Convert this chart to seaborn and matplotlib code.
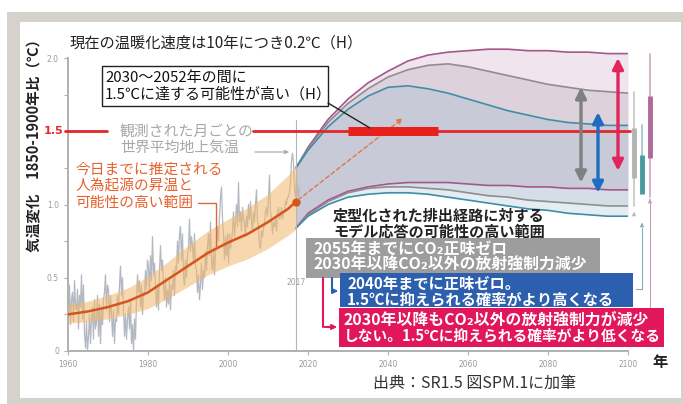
import numpy as np
import pandas as pd
import matplotlib
matplotlib.use('Agg')
import matplotlib.pyplot as plt
import seaborn as sns
from matplotlib.patches import Rectangle, FancyArrowPatch
from matplotlib.lines import Line2D

# ---------------- data ----------------
obs_vals = [
    0.22, 0.45, 0.18, 0.35,  # 1960
    0.40, 0.20, 0.48, 0.30,
    0.28, 0.42, 0.15, 0.38,
    0.30, 0.52, 0.22, 0.45,
    0.12, 0.02, 0.20, 0.00,
    0.10, 0.25, 0.05, 0.22,
    0.30, 0.08, 0.35, 0.15,
    0.20, 0.38, 0.10, 0.32,
    0.05, 0.30, 0.18, 0.35,
    0.40, 0.52, 0.28, 0.45,
    0.42, 0.20, 0.38, 0.25,  # 1970
    0.10, 0.28, 0.05, 0.22,
    0.20, 0.38, 0.25, 0.45,
    0.58, 0.38, 0.50, 0.28,
    0.10, 0.25, 0.08, 0.22,
    0.30, 0.15, 0.35, 0.05,
    0.18, 0.00, 0.22, 0.08,
    0.35, 0.52, 0.40, 0.48,
    0.30, 0.45, 0.25, 0.40,
    0.38, 0.55, 0.42, 0.62,
    0.58, 0.40, 0.65, 0.48,  # 1980
    0.78, 0.52, 0.60, 0.45,
    0.30, 0.45, 0.28, 0.55,
    0.72, 0.55, 0.62, 0.45,
    0.35, 0.50, 0.30, 0.42,
    0.32, 0.48, 0.28, 0.45,
    0.42, 0.55, 0.38, 0.58,
    0.55, 0.75, 0.60, 0.80,
    0.85, 0.62, 0.80, 0.50,
    0.45, 0.62, 0.50, 0.65,
    0.70, 0.90, 0.68, 0.78,  # 1990
    0.72, 0.60, 0.80, 0.58,
    0.55, 0.40, 0.52, 0.35,
    0.45, 0.60, 0.42, 0.55,
    0.50, 0.68, 0.55, 0.72,
    0.80, 0.65, 0.88, 0.60,
    0.55, 0.70, 0.52, 0.68,
    0.70, 0.85, 0.75, 0.92,
    1.05, 1.12, 0.90, 0.80,
    0.62, 0.78, 0.65, 0.80,
    0.60, 0.80, 0.70, 0.75,  # 2000
    0.82, 0.95, 0.78, 0.88,
    1.00, 0.85, 1.15, 0.88,
    0.95, 0.82, 0.98, 0.90,
    0.88, 0.78, 0.92, 0.85,
    1.00, 0.90, 1.02, 0.88,
    0.82, 0.95, 0.88, 1.00,
    1.10, 0.88, 0.85, 0.72,
    0.70, 0.82, 0.78, 0.85,
    0.85, 0.95, 0.98, 0.92,
    1.05, 1.20, 0.95, 0.90,  # 2010
    0.80, 0.88, 0.85, 0.90,
    0.82, 0.95, 0.98, 0.90,
    0.92, 0.98, 0.90, 0.95,
    0.95, 1.02, 1.00, 1.05,
    1.05, 1.08, 1.15, 1.30,
    1.35, 1.28, 1.10, 1.05,
    1.18, 1.10, 1.05, 1.12,
]
obs_start = 1960

anth_years = [1960, 1965, 1970, 1975, 1980, 1985, 1990, 1995, 2000, 2005, 2010, 2015, 2017]
anth_mid = [0.25, 0.27, 0.30, 0.34, 0.40, 0.49, 0.58, 0.67, 0.74, 0.80, 0.88, 0.97, 1.02]
anth_lo = [0.19, 0.20, 0.22, 0.25, 0.29, 0.36, 0.44, 0.52, 0.58, 0.63, 0.70, 0.79, 0.83]
anth_hi = [0.32, 0.34, 0.38, 0.43, 0.51, 0.61, 0.72, 0.82, 0.90, 0.98, 1.07, 1.20, 1.27]

proj_years = [2017, 2020, 2025, 2030, 2035, 2040, 2045, 2050, 2055, 2060,
              2065, 2070, 2075, 2080, 2085, 2090, 2095, 2100]
pink_hi = [1.25, 1.39, 1.58, 1.72, 1.83, 1.91, 1.98, 2.02, 2.04, 2.05, 2.06, 2.06, 2.05, 2.05, 2.04, 2.04, 2.03, 2.03]
gray_hi = [1.25, 1.38, 1.56, 1.69, 1.79, 1.87, 1.92, 1.95, 1.96, 1.94, 1.91, 1.88, 1.85, 1.82, 1.80, 1.78, 1.77, 1.76]
blue_hi = [1.25, 1.37, 1.53, 1.65, 1.74, 1.80, 1.81, 1.79, 1.76, 1.72, 1.68, 1.64, 1.61, 1.58, 1.56, 1.55, 1.54, 1.54]
pink_lo = [0.84, 0.94, 1.03, 1.09, 1.12, 1.14, 1.15, 1.15, 1.15, 1.14, 1.13, 1.13, 1.12, 1.12, 1.11, 1.11, 1.10, 1.10]
gray_lo = [0.84, 0.93, 1.02, 1.08, 1.11, 1.12, 1.12, 1.11, 1.10, 1.08, 1.06, 1.05, 1.03, 1.02, 1.01, 1.00, 0.99, 0.99]
blue_lo = [0.84, 0.92, 1.00, 1.05, 1.07, 1.08, 1.08, 1.07, 1.05, 1.03, 1.01, 0.99, 0.97, 0.96, 0.94, 0.93, 0.92, 0.92]

# scenario ranges in 2100 (double arrows): x-year, top, bottom
gray_arrow = (2088.25, 1.80, 1.15)
blue_arrow = (2092.5, 1.63, 1.08)
pink_arrow = (2097.5, 2.00, 1.23)

# right-hand bars: x, thin range, thick range
gray_bar = (2101.5, (0.99, 1.77), (1.18, 1.52))
blue_bar = (2103.5, (1.07, 1.54), (1.07, 1.34))
pink_bar = (2105.5, (1.05, 2.03), (1.32, 1.74))

reach_15 = (2030, 2052.5)
x_ticks = [1960, 1980, 2000, 2020, 2040, 2060, 2080, 2100]
y_ticks = [0, 0.25, 0.5, 0.75, 1.0, 1.25, 1.5, 1.75, 2.0]
y_labels = ['0', '', '0.5', '', '1.0', '', '', '', '2.0']

# ---------------- style ----------------
sns.set_theme(style='white')
plt.rcParams['font.family'] = ['Noto Sans CJK JP', 'DejaVu Sans']

W, H = 683, 404
fig = plt.figure(figsize=(W / 100, H / 100), dpi=100)


def P(x, y):
    return (x / W, 1 - y / H)


def frect(x0, y0, x1, y1, **kw):
    r = Rectangle((x0 / W, 1 - y1 / H), (x1 - x0) / W, (y1 - y0) / H,
                  transform=fig.transFigure, **kw)
    fig.add_artist(r)


def fline(xs, ys, **kw):
    fig.add_artist(Line2D([x / W for x in xs], [1 - y / H for y in ys],
                          transform=fig.transFigure, **kw))


def farrow(x0, y0, x1, y1, **kw):
    fig.add_artist(FancyArrowPatch(P(x0, y0), P(x1, y1),
                                   transform=fig.transFigure, **kw))


def ftext(x, y, s, **kw):
    kw.setdefault('va', 'center')
    fig.text(x / W, 1 - y / H, s, **kw)


# frame
frect(7, 12, 683, 404, fc='#d5d2cb', ec='none', zorder=-10)
frect(20, 22, 681, 398, fc='white', ec='none', zorder=-9)

ax = fig.add_axes([68 / W, 1 - 351 / H, 560 / W, 307.65 / H])
ax.patch.set_alpha(0)
ax.set_xlim(1960, 2100)
ax.set_ylim(0, 2.1)

# projections fills
py = np.array(proj_years)
ax.fill_between(py, gray_hi, pink_hi, color='#f0e4ee', lw=0, zorder=1)
ax.fill_between(py, blue_hi, gray_hi, color='#ddd1dc', lw=0, zorder=1)
ax.fill_between(py, pink_lo, blue_hi, color='#c9cad8', lw=0, zorder=1)
ax.fill_between(py, gray_lo, pink_lo, color='#d5dee6', lw=0, zorder=1)
ax.fill_between(py, blue_lo, gray_lo, color='#e4edf1', lw=0, zorder=1)

proj = pd.DataFrame({'year': proj_years})
for col, vals, c in [('ph', pink_hi, '#a4578a'), ('pl', pink_lo, '#a4578a'),
                     ('gh', gray_hi, '#8e8e8e'), ('gl', gray_lo, '#8e8e8e'),
                     ('bh', blue_hi, '#3f8ea8'), ('bl', blue_lo, '#3f8ea8')]:
    proj[col] = vals
    sns.lineplot(data=proj, x='year', y=col, ax=ax, color=c, lw=1.2,
                 estimator=None, zorder=2)

# observations
obs = pd.DataFrame({'year': obs_start + 0.125 + 0.25 * np.arange(len(obs_vals)),
                    'temp': obs_vals})
sns.lineplot(data=obs, x='year', y='temp', ax=ax, color='#b3b8c2', lw=0.9,
             estimator=None, zorder=2)

# anthropogenic band and line
ax.fill_between(anth_years, anth_lo, anth_hi, color='#f2b76a', alpha=0.55,
                lw=0, zorder=3)
anth = pd.DataFrame({'year': anth_years, 'mid': anth_mid})
sns.lineplot(data=anth, x='year', y='mid', ax=ax, color='#d4561e', lw=1.8,
             estimator=None, zorder=4)
ax.plot([anth_years[-1]], [anth_mid[-1]], 'o', color='#d4561e', ms=5, zorder=5)
ax.annotate('', xy=(2044.25, 1.60), xytext=(anth_years[-1], anth_mid[-1]),
            arrowprops=dict(arrowstyle='-|>', color='#d97a48', lw=1.0,
                            linestyle=(0, (3, 2)), mutation_scale=8), zorder=5)

# 2017 marker line
ax.plot([2017, 2017], [0, 1.58], color='#b5b5b5', lw=0.8, zorder=2)
ax.text(2017, 0.47, '2017', color='#a0a0a0', fontsize=5.5, ha='center',
        va='center', family='DejaVu Sans')

# 1.5 line
ax.plot([1959.25, 1969.75], [1.5, 1.5], color='#e3262a', lw=2, clip_on=False, zorder=6)
ax.plot([2006.25, 2100.5], [1.5, 1.5], color='#e3262a', lw=2, clip_on=False, zorder=6)
ax.plot(list(reach_15), [1.5, 1.5], color='#e8201c', lw=6.5,
        solid_capstyle='butt', zorder=7)

# double arrows
for (xa, top, bot), c in [(gray_arrow, '#808080'), (blue_arrow, '#1f6cc0'),
                          (pink_arrow, '#e2245e')]:
    ax.annotate('', xy=(xa, top), xytext=(xa, bot),
                arrowprops=dict(arrowstyle='<|-|>', color=c, lw=2.4,
                                mutation_scale=16, shrinkA=0, shrinkB=0),
                zorder=8)

# right bars
for (xb, thin, thick), c_thin, c_thick in [
        (gray_bar, '#c6c6c6', '#b3b3b3'),
        (blue_bar, '#9cc4c8', '#4b9aa2'),
        (pink_bar, '#cfa8c3', '#b06a98')]:
    ax.plot([xb, xb], list(thin), color=c_thin, lw=1.2, clip_on=False, zorder=6)
    ax.plot([xb, xb], list(thick), color=c_thick, lw=3.5, clip_on=False,
            solid_capstyle='butt', zorder=7)

# axes styling
ax.set_xticks(x_ticks)
ax.set_xticklabels([str(t) for t in x_ticks])
ax.set_yticks(y_ticks)
ax.set_yticklabels(y_labels)
ax.tick_params(axis='both', labelsize=5.5, labelcolor='#9a9a9a', color='#b0b0b0',
               length=3, width=0.8, direction='out', left=True, bottom=True)
ax.tick_params(axis='x', pad=3.5)
for lab in ax.get_xticklabels() + ax.get_yticklabels():
    lab.set_family('DejaVu Sans')
ax.set_xlabel('')
ax.set_ylabel('')
for s in ['top', 'right']:
    ax.spines[s].set_visible(False)
for s in ['left', 'bottom']:
    ax.spines[s].set_color('#b0b0b0')
    ax.spines[s].set_linewidth(1.4)
ax.spines['left'].set_bounds(0, 2.0)

# ---------------- texts & annotations ----------------
ftext(63, 131, '1.5', color='#e3262a', fontsize=8, fontweight='bold', ha='right',
      family='DejaVu Sans')
ftext(34, 142, '気温変化　1850-1900年比（℃）', rotation=90, fontsize=10.5,
      fontweight='bold', ha='center', color='#222222')
ftext(70, 43, '現在の温暖化速度は10年につき0.2℃（H）', fontsize=11, color='#222222')

frect(102, 66, 328, 106, fc='white', ec='#222222', lw=1, zorder=4)
ftext(105, 78, '2030～2052年の間に', fontsize=10.8, color='#111111', zorder=5)
ftext(105, 94, '1.5℃に達する可能性が高い（H）', fontsize=10.8, color='#111111', zorder=5)
fline([328, 370], [103, 128], color='#222222', lw=1, zorder=5)

ftext(120, 132, '観測された月ごとの', fontsize=10.7, color='#a8a8a8')
ftext(120, 148, '世界平均地上気温', fontsize=10.7, color='#a8a8a8')
farrow(252, 152, 292, 152, arrowstyle='-|>', color='#b0b0b0', lw=0.9,
       mutation_scale=6, zorder=5)

for i, s in enumerate(['今日までに推定される', '人為起源の昇温と', '可能性の高い範囲']):
    ftext(75, 170 + 16.5 * i, s, fontsize=10.6, color='#e8602c')
fline([198, 216, 216], [203, 203, 247], color='#d8693a', lw=1, zorder=5)

ftext(333, 216, '定型化された排出経路に対する', fontsize=10.9, fontweight='bold',
      color='#222222')
ftext(333, 232, 'モデル応答の可能性の高い範囲', fontsize=10.9, fontweight='bold',
      color='#222222')

# scenario boxes
frect(306, 238, 600, 278, fc='#9d9d9d', ec='none', zorder=3)
ftext(313, 249, '2055年までにCO₂正味ゼロ', fontsize=11.4, fontweight='bold',
      color='white', zorder=6)
ftext(313, 265, '2030年以降CO₂以外の放射強制力減少', fontsize=11.4,
      fontweight='bold', color='white', zorder=6)

frect(340, 273, 633, 307, fc='#2c5fae', ec='none', zorder=4)
ftext(347, 284, '2040年までに正味ゼロ。', fontsize=11.0, fontweight='bold',
      color='white', zorder=6)
ftext(347, 299.5, '1.5℃に抑えられる確率がより高くなる', fontsize=11.0,
      fontweight='bold', color='white', zorder=6)

frect(339, 308, 664, 347, fc='#e2175b', ec='none', zorder=5)
ftext(344, 320, '2030年以降もCO₂以外の放射強制力が減少', fontsize=11.4,
      fontweight='bold', color='white', zorder=6)
ftext(344, 336, 'しない。1.5℃に抑えられる確率がより低くなる', fontsize=10.6,
      fontweight='bold', color='white', zorder=6)

# connectors
fline([332, 332], [278, 291], color='#2c5fae', lw=1.5, zorder=5)
farrow(331, 291, 341, 291, arrowstyle='-|>', color='#2c5fae', lw=1.5,
       mutation_scale=7, zorder=5)
fline([323, 323], [278, 327], color='#e2175b', lw=1.5, zorder=5)
farrow(322, 327, 340, 327, arrowstyle='-|>', color='#e2175b', lw=1.5,
       mutation_scale=7, zorder=5)
farrow(634, 218, 634, 209, arrowstyle='-|>', color='#b8b8b8', lw=0.8,
       mutation_scale=5, zorder=5)
fline([642, 642, 636], [228, 289, 289], color='#7fb0b8', lw=0.8, zorder=5)
farrow(642, 228, 642, 220, arrowstyle='-|>', color='#7fb0b8', lw=0.8,
       mutation_scale=5, zorder=5)
fline([650, 650], [201, 307], color='#c79cb9', lw=0.8, zorder=5)
farrow(650, 203, 650, 196, arrowstyle='-|>', color='#c79cb9', lw=0.8,
       mutation_scale=5, zorder=5)

ftext(652, 362, '年', fontsize=11, fontweight='bold', color='#222222')
ftext(373, 383, '出典：SR1.5 図SPM.1に加筆', fontsize=11.5, color='#333333')

fig.savefig('out.png', dpi=100)
